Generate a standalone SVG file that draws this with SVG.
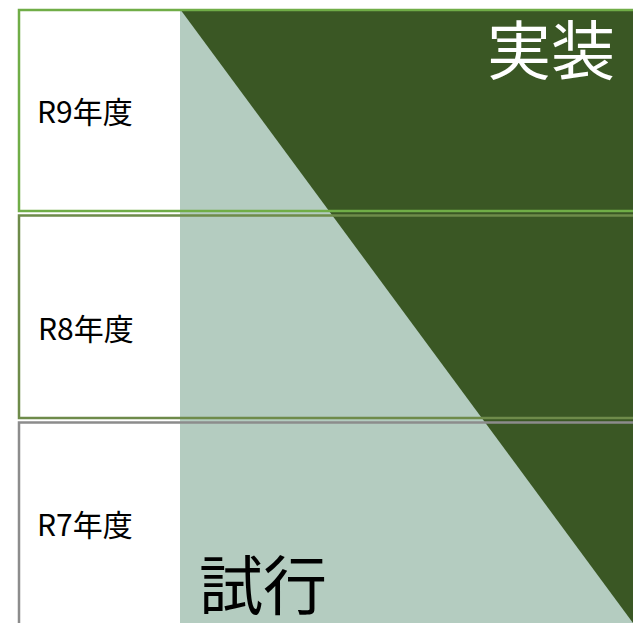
<svg xmlns="http://www.w3.org/2000/svg" width="633" height="623" viewBox="0 0 633 623">
<style>
.row{fill:none;stroke-width:2.5}
.lbl{font-family:"Noto Sans CJK JP","Noto Sans",sans-serif;font-size:30px;fill:#000}
.big{font-family:"Noto Sans CJK JP","Noto Sans",sans-serif;font-size:64px}
</style>
<rect width="633" height="623" fill="#ffffff"/>
<g id="area">
<rect x="180" y="9" width="460" height="620" fill="#B4CCC0"/>
<polygon points="180,9 640,9 640,632.5" fill="#3A5724"/>
</g>
<g id="row-r9">
<rect class="row" x="19" y="10" width="700" height="201" stroke="#70AD47"/>
<text class="lbl" x="37" y="123">R9年度</text>
</g>
<g id="row-r8">
<rect class="row" x="19" y="215.5" width="700" height="202.5" stroke="#6E8B4A"/>
<text class="lbl" x="38" y="340">R8年度</text>
</g>
<g id="row-r7">
<rect class="row" x="19" y="422.5" width="700" height="300" stroke="#8C8C8C"/>
<text class="lbl" x="37" y="536">R7年度</text>
</g>
<g id="label-jisso">
<text class="big" x="487" y="74" fill="#ffffff">実装</text>
</g>
<g id="label-shiko">
<text class="big" x="199" y="609" fill="#000000">試行</text>
</g>
<g id="connectors"></g>
</svg>
